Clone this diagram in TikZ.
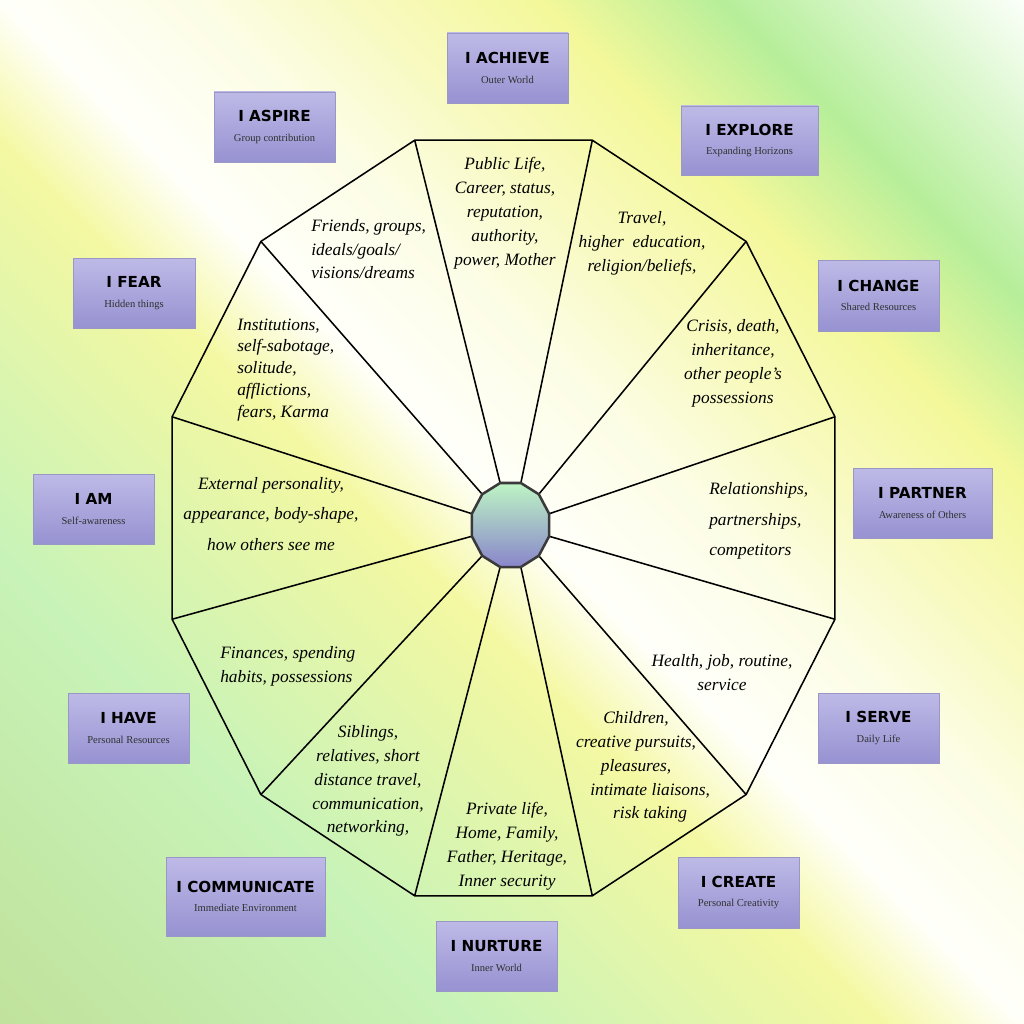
\documentclass[tikz,border=0pt]{standalone}
\usepackage{fontspec}
\setmainfont{Liberation Serif}
\newfontfamily\titlefamily{DejaVu Sans}
\usetikzlibrary{shapes.geometric}
\definecolor{bgTR}{HTML}{FAFFF8}
\definecolor{bgG1}{HTML}{B6EE9A}
\definecolor{bgY1}{HTML}{F4F89A}
\definecolor{bgY1b}{HTML}{F8FAC2}
\definecolor{bgY1c}{HTML}{FCFDE4}
\definecolor{bgW}{HTML}{FFFFFA}
\definecolor{bgY2}{HTML}{F4F8A2}
\definecolor{bgLG}{HTML}{C8F3B8}
\definecolor{bgBL}{HTML}{C0E29C}
\definecolor{boxtop}{HTML}{BEBAE7}
\definecolor{boxbot}{HTML}{9792D1}
\definecolor{boxline}{HTML}{9A96C6}
\definecolor{hubtop}{HTML}{BDF5C4}
\definecolor{hubbot}{HTML}{8985CB}
\definecolor{hubline}{HTML}{3A3A3A}
\definecolor{subtext}{HTML}{303030}
\pgfdeclarehorizontalshading{bgshade}{100bp}{color(0bp)=(bgBL); color(14.64bp)=(bgBL); color(30.92bp)=(bgLG); color(45.05bp)=(bgY2); color(50bp)=(bgW); color(57.08bp)=(bgY1c); color(62.03bp)=(bgY1b); color(68.74bp)=(bgY1); color(75.11bp)=(bgG1); color(85.36bp)=(bgTR); color(100bp)=(bgTR)}
\newcommand{\sectfont}{\fontsize{12.35}{17}\selectfont\itshape}
\newcommand{\bt}[2]{{\titlefamily\bfseries\fontsize{10.8}{14}\selectfont #1}\\{\color{subtext}\fontsize{7.5}{9}\selectfont #2}}
\begin{document}
\begin{tikzpicture}[x=0.025cm,y=-0.025cm,
  pbox/.style={draw=boxline, line width=0.6pt, top color=boxtop, bottom color=boxbot,
    minimum width=121*0.025cm, minimum height=70*0.025cm, inner sep=0pt, align=center,
    font=\fontsize{10}{14}\selectfont},
  sect/.style={font=\sectfont, align=center, inner sep=0pt, text=black},
  wheel/.style={line width=1.1pt, draw=black, line join=miter},
]
\useasboundingbox (0,0) rectangle (1024,1024);
\shade[shading=bgshade, shading angle=45] (0,0) rectangle (1024,1024);

% outer and inner vertices
\foreach \k in {0,...,11} {
  \pgfmathsetmacro\a{15+30*\k}
  \coordinate (o\k) at ([shift={(503.5,518)}]\a:343.1 and 391.1);
  \coordinate (i\k) at ([shift={(510.5,525)}]\a:40 and 43.5);
}
\draw[wheel] (o0) \foreach \k in {1,...,11} { -- (o\k) } -- cycle;
\foreach \k in {0,...,11} \draw[wheel] (o\k) -- (i\k);
\path[draw=hubline, line width=1.8pt, top color=hubtop, bottom color=hubbot, line join=miter]
  (i0) \foreach \k in {1,...,11} { -- (i\k) } -- cycle;

% sector texts
\node[sect] (t1) at (505,213) {Public Life,\\Career, status,\\reputation,\\authority,\\power, Mother};
\node[sect] (t2) at (642,243) {Travel,\\higher~ education,\\religion/beliefs,};
\node[sect] (t3) at (733,363) {Crisis, death,\\inheritance,\\other people’s\\possessions};
\node[sect, align=left, anchor=west, font=\fontsize{12.35}{21.6}\selectfont\itshape] (t4) at (709,521) {Relationships,\\partnerships,\\competitors};
\node[sect] (t5) at (722,673) {Health, job, routine,\\service};
\node[sect] (t6) at (636,767) {Children,\\creative pursuits,\\pleasures,\\\hspace*{20pt}intimate liaisons,\\\hspace*{20pt}risk taking};
\node[sect] (t7) at (507,846) {Private life,\\Home, Family,\\Father, Heritage,\\Inner security};
\node[sect] (t8) at (368,781) {Siblings,\\relatives, short\\distance travel,\\communication,\\networking,};
\node[sect, align=left, anchor=west] (t9) at (220,666) {Finances, spending\\habits, possessions};
\node[sect, font=\fontsize{12.35}{21.9}\selectfont\itshape] (t10) at (271,514) {External personality,\\appearance, body-shape,\\how others see me};
\node[sect, align=left, anchor=west, font=\fontsize{12.35}{15.6}\selectfont\itshape] (t11) at (237,370) {Institutions,\\self-sabotage,\\solitude,\\afflictions,\\fears, Karma};
\node[sect, align=left, anchor=west, font=\fontsize{12.35}{16.7}\selectfont\itshape] (t12) at (311,249.5) {Friends, groups,\\ideals/goals/\\visions/dreams};

% boxes
\node[pbox] (b1) at (507.5,68) {\bt{I ACHIEVE}{Outer World}};
\node[pbox, minimum width=137*0.025cm, minimum height=69*0.025cm] (b2) at (749.5,140.5) {\bt{I EXPLORE}{Expanding Horizons}};
\node[pbox, minimum height=71*0.025cm] (b3) at (878.5,295.5) {\bt{I CHANGE}{Shared Resources}};
\node[pbox, minimum width=139*0.025cm] (b4) at (922.5,503) {\bt{I PARTNER}{Awareness of Others}};
\node[pbox] (b5) at (878.5,728) {\bt{I SERVE}{Daily Life}};
\node[pbox, minimum height=71*0.025cm] (b6) at (738.5,892.5) {\bt{I CREATE}{Personal Creativity}};
\node[pbox] (b7) at (496.5,956) {\bt{I NURTURE}{Inner World}};
\node[pbox, minimum width=159*0.025cm, minimum height=79*0.025cm] (b8) at (245.5,896.5) {\bt{I COMMUNICATE}{Immediate Environment}};
\node[pbox] (b9) at (128.5,728) {\bt{I HAVE}{Personal Resources}};
\node[pbox] (b10) at (93.5,509) {\bt{I AM}{Self-awareness}};
\node[pbox, minimum width=122*0.025cm] (b11) at (134,293) {\bt{I FEAR}{Hidden things}};
\node[pbox] (b12) at (274.5,127) {\bt{I ASPIRE}{Group contribution}};
\end{tikzpicture}
\end{document}
